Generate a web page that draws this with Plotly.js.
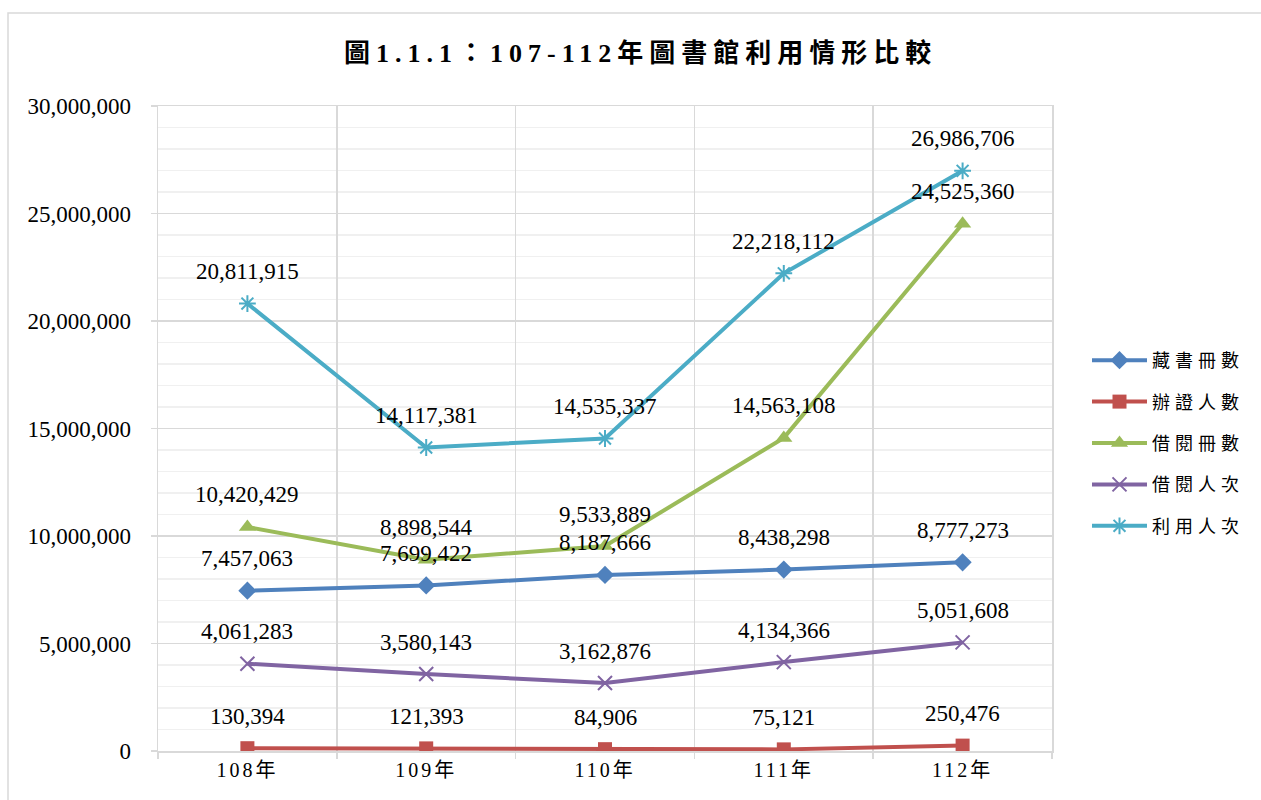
<!DOCTYPE html>
<html>
<head>
<meta charset="utf-8">
<script src="https://cdn.plot.ly/plotly-3.0.1.min.js"></script>
<style>
  html, body { margin: 0; padding: 0; background: #fff; }
  #chart { width: 1261px; height: 800px; }
  .gtitle { letter-spacing: 6px; }
  .xtick text { letter-spacing: 3px; }
  .legendtext { letter-spacing: 5px; }
</style>
</head>
<body>
<div id="chart"></div>
<script>
const categories = ['108年', '109年', '110年', '111年', '112年'];
const seriesNames = ['藏書冊數', '辦證人數', '借閱冊數', '借閱人次', '利用人次'];
const collection = [7457063, 7699422, 8187666, 8438298, 8777273];
const cardsIssued = [130394, 121393, 84906, 75121, 250476];
const booksBorrowed = [10420429, 8898544, 9533889, 14563108, 24525360];
const borrowers = [4061283, 3580143, 3162876, 4134366, 5051608];
const visits = [20811915, 14117381, 14535337, 22218112, 26986706];
const yTickVals = [0, 5000000, 10000000, 15000000, 20000000, 25000000, 30000000];
const yTickText = ['0', '5,000,000', '10,000,000', '15,000,000', '20,000,000', '25,000,000', '30,000,000'];

const seriesValues = [collection, cardsIssued, booksBorrowed, borrowers, visits];
const colors = ['#4F81BD', '#C0504D', '#9BBB59', '#8064A2', '#4BACC6'];
const symbols = ['diamond', 'square', 'triangle-up', 'x-thin-open', 'asterisk-open'];
const sizes = [14, 14, 15, 14, 14];

const serif = "'Liberation Serif', 'Times New Roman', 'Noto Sans CJK TC', serif";

const traces = seriesValues.map((vals, i) => ({
  type: 'scatter',
  mode: 'lines+markers',
  name: seriesNames[i],
  legendgroup: 'g' + i,
  x: categories,
  y: vals,
  line: { color: colors[i], width: 4 },
  marker: {
    symbol: symbols[i],
    size: sizes[i],
    color: colors[i],
    line: { color: colors[i], width: (i >= 3 ? 2 : 0) }
  },
  hoverinfo: 'skip'
}));

const fmt = v => v.toLocaleString('en-US');
const annotations = [];
seriesValues.forEach(vals => {
  vals.forEach((v, j) => {
    annotations.push({
      x: categories[j], y: v, xref: 'x', yref: 'y',
      text: fmt(v), showarrow: false, yshift: 32,
      font: { family: serif, size: 23, color: '#000' }
    });
  });
});

const shapes = [{
  type: 'rect', xref: 'paper', yref: 'paper',
  x0: (8 - 158) / 894, x1: (1270 - 158) / 894,
  y0: (751 - 810) / 645, y1: (751 - 13) / 645,
  line: { color: '#D9D9D9', width: 1.5 }, fillcolor: 'rgba(0,0,0,0)', layer: 'below'
}];

const layout = {
  width: 1261, height: 800,
  margin: { l: 158, r: 209, t: 106, b: 49 },
  paper_bgcolor: '#fff', plot_bgcolor: '#fff',
  title: {
    text: '圖1.1.1：107-112年圖書館利用情形比較',
    x: 0.508, xanchor: 'center', xref: 'container',
    y: 1 - 53 / 800, yanchor: 'middle', yref: 'container',
    font: { family: serif, size: 26, color: '#000', weight: 'bold' }
  },
  xaxis: {
    type: 'category',
    range: [-0.5, 4.5],
    tickson: 'boundaries',
    ticks: 'outside', ticklen: 6, tickcolor: '#D9D9D9', tickwidth: 1.5,
    showgrid: true, gridcolor: '#D9D9D9', gridwidth: 1.5,
    showline: true, linecolor: '#D9D9D9', linewidth: 1.5, mirror: true,
    tickfont: { family: serif, size: 20, color: '#000' },
    fixedrange: true
  },
  yaxis: {
    range: [0, 30000000],
    tickvals: yTickVals, ticktext: yTickText,
    ticks: 'outside', ticklen: 6, tickcolor: '#D9D9D9', tickwidth: 1.5,
    showgrid: true, gridcolor: '#D9D9D9', gridwidth: 1.5,
    minor: { dtick: 1000000, showgrid: true, gridcolor: '#F0F0F0', gridwidth: 1.5, ticks: '' },
    showline: true, linecolor: '#D9D9D9', linewidth: 1.5, mirror: true,
    zeroline: false,
    tickfont: { family: serif, size: 23, color: '#000' },
    ticklabelstandoff: 15,
    fixedrange: true
  },
  legend: {
    x: (1087 - 158) / 894, xanchor: 'left',
    y: (751 - 342) / 645, yanchor: 'top',
    font: { family: serif, size: 18, color: '#000' },
    tracegroupgap: 15,
    itemwidth: 55,
    bgcolor: 'rgba(0,0,0,0)'
  },
  showlegend: true,
  annotations: annotations,
  shapes: shapes,
  hovermode: false
};

Plotly.newPlot('chart', traces, layout, { displayModeBar: false, staticPlot: true });
</script>
</body>
</html>
